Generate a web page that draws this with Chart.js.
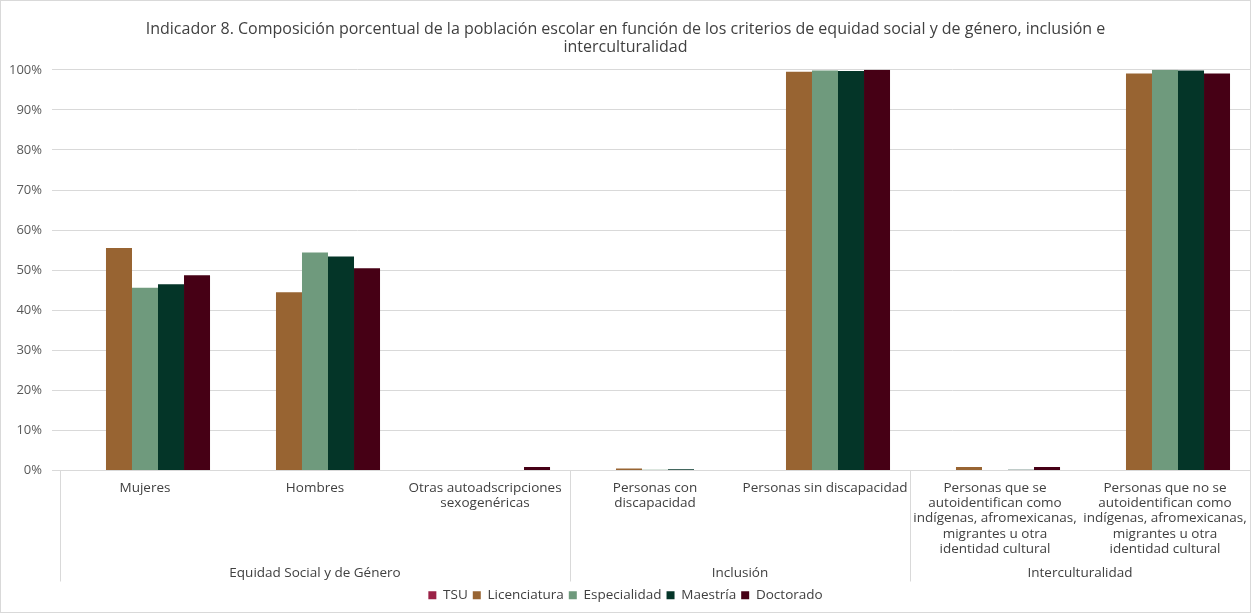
<!DOCTYPE html>
<html lang="es">
<head>
<meta charset="UTF-8">
<title>Indicador 8</title>
<script src="https://cdn.jsdelivr.net/npm/chart.js@4.4.0/dist/chart.umd.min.js"></script>
<style>
  body { margin: 0; background: #fff; }
  .wrap { position: relative; width: 1249px; height: 611px; border: 1px solid #d9d9d9; }
</style>
</head>
<body>
<div class="wrap"><canvas id="chart"></canvas></div>
<script>
// categories (multi-line tick labels)
var categories = [
  ['Mujeres'],
  ['Hombres'],
  ['Otras autoadscripciones', 'sexogenéricas'],
  ['Personas con', 'discapacidad'],
  ['Personas sin discapacidad'],
  ['Personas que se', 'autoidentifican como', 'indígenas, afromexicanas,', 'migrantes u otra', 'identidad cultural'],
  ['Personas que no se', 'autoidentifican como', 'indígenas, afromexicanas,', 'migrantes u otra', 'identidad cultural']
];
// groups: label and how many categories they span
var groupLabels = ['Equidad Social y de Género', 'Inclusión', 'Interculturalidad'];
var groupSizes = [3, 2, 2];

var seriesNames = ['TSU', 'Licenciatura', 'Especialidad', 'Maestría', 'Doctorado'];
var seriesColors = ['#9b2247', '#986432', '#6f9a7d', '#043528', '#460015'];

var tsu = [0, 0, 0, 0, 0, 0, 0];
var licenciatura = [55.5, 44.5, 0, 0.5, 99.5, 0.9, 99.1];
var especialidad = [45.6, 54.4, 0, 0.2, 99.8, 0, 100];
var maestria = [46.5, 53.4, 0, 0.3, 99.7, 0.2, 99.8];
var doctorado = [48.7, 50.5, 0.9, 0, 100, 0.9, 99.1];

var yTicks = [0, 10, 20, 30, 40, 50, 60, 70, 80, 90, 100];

var seriesValues = [tsu, licenciatura, especialidad, maestria, doctorado];
var datasets = seriesNames.map(function (name, i) {
  return {
    label: name,
    data: seriesValues[i],
    backgroundColor: seriesColors[i],
    borderWidth: 0,
    categoryPercentage: 0.765,
    barPercentage: 1.0
  };
});

var FONT = "'Open Sans', sans-serif";

// draws group separators and group labels below the category labels
var groupAxis = {
  id: 'groupAxis',
  afterDraw: function (chart) {
    var ctx = chart.ctx;
    var x = chart.scales.x;
    var step = (x.right - x.left) / categories.length;
    var top = x.top;
    ctx.save();
    ctx.strokeStyle = '#d9d9d9';
    ctx.lineWidth = 1;
    var start = 0;
    var bounds = [0];
    groupSizes.forEach(function (s) { start += s; bounds.push(start); });
    bounds.forEach(function (b) {
      var px = Math.round(x.left + b * step) + 0.5;
      ctx.beginPath();
      ctx.moveTo(px, top);
      ctx.lineTo(px, top + 111);
      ctx.stroke();
    });
    ctx.fillStyle = '#404040';
    ctx.font = '13.5px ' + FONT;
    ctx.textAlign = 'center';
    ctx.textBaseline = 'middle';
    groupLabels.forEach(function (g, i) {
      var cx = x.left + (bounds[i] + bounds[i + 1]) / 2 * step;
      ctx.fillText(g, cx, top + 103);
    });
    ctx.restore();
  }
};

new Chart(document.getElementById('chart'), {
  type: 'bar',
  data: { labels: categories, datasets: datasets },
  plugins: [groupAxis],
  options: {
    responsive: true,
    maintainAspectRatio: false,
    animation: false,
    layout: { padding: { left: 0, right: 0, top: 8, bottom: 0 } },
    plugins: {
      title: {
        display: true,
        text: ['Indicador 8. Composición porcentual de la población escolar en función de los criterios de equidad social y de género, inclusión e', 'interculturalidad'],
        color: '#404040',
        font: { family: FONT, size: 16, weight: 'normal', lineHeight: 1.15 },
        padding: { top: 11, bottom: 13 }
      },
      legend: {
        position: 'bottom',
        labels: {
          color: '#404040',
          font: { family: FONT, size: 13.5 },
          usePointStyle: true,
          pointStyle: 'rect',
          boxWidth: 8,
          boxHeight: 8,
          padding: 5
        }
      },
      tooltip: { enabled: false }
    },
    scales: {
      x: {
        grid: { display: false },
        border: { display: true, color: '#d9d9d9' },
        ticks: {
          color: '#404040',
          font: { family: FONT, size: 13.5, lineHeight: 1.13 },
          maxRotation: 0,
          autoSkip: false,
          padding: 2
        },
        afterFit: function (s) { s.height = 113; }
      },
      y: {
        min: 0,
        max: 100,
        afterBuildTicks: function (s) { s.ticks = yTicks.map(function (v) { return { value: v }; }); },
        grid: { color: '#d9d9d9' },
        border: { display: false },
        ticks: {
          color: '#595959',
          font: { family: FONT, size: 13 },
          callback: function (v) { return v + '%'; },
          padding: 10
        },
        afterFit: function (s) { s.width = 59; }
      }
    }
  }
});
</script>
</body>
</html>
